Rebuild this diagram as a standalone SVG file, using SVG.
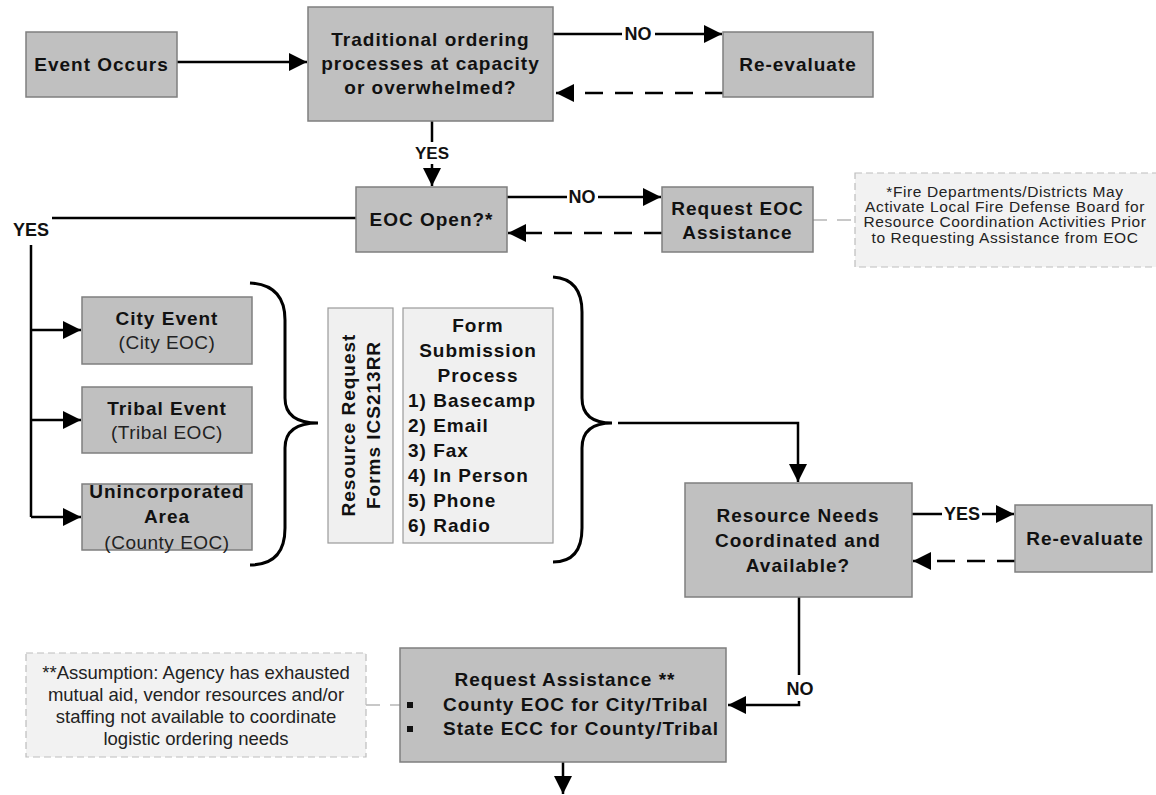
<svg xmlns="http://www.w3.org/2000/svg" width="1156" height="795" viewBox="0 0 1156 795">
  <defs>
    <marker id="arrow" markerUnits="userSpaceOnUse" markerWidth="20" markerHeight="20" refX="18" refY="9" orient="auto">
      <path d="M0,0 L18,9 L0,18 z" fill="#000"/>
    </marker>
    <style>
      .box { fill: #c0c0c0; stroke: #7f7f7f; stroke-width: 1.5; }
      .light { fill: #f0f0f0; stroke: #9a9a9a; stroke-width: 1.2; }
      .note { fill: #f2f2f2; stroke: #bdbdbd; stroke-width: 1.2; stroke-dasharray: 7 4; }
      .t { font-family: "Liberation Sans", Arial, sans-serif; font-weight: bold; font-size: 19px; letter-spacing: 1px; fill: #111; text-anchor: middle; }
      .n { font-family: "Liberation Sans", Arial, sans-serif; font-size: 19px; letter-spacing: 0.5px; fill: #222; text-anchor: middle; }
      .s { font-family: "Liberation Sans", Arial, sans-serif; font-size: 15.5px; letter-spacing: 0.6px; fill: #222; text-anchor: middle; }
      .a { font-family: "Liberation Sans", Arial, sans-serif; font-size: 18.5px; fill: #222; text-anchor: middle; }
      .lbl { font-family: "Liberation Sans", Arial, sans-serif; font-weight: bold; font-size: 17px; fill: #111; text-anchor: middle; }
      .line { fill: none; stroke: #000; stroke-width: 2.5; }
      .dash { fill: none; stroke: #000; stroke-width: 2.5; stroke-dasharray: 18 12; }
      .gdash { fill: none; stroke: #c8c8c8; stroke-width: 2; stroke-dasharray: 14 10; }
      .brace { fill: none; stroke: #000; stroke-width: 3; }
    </style>
  </defs>

  <rect width="1156" height="795" fill="#fff"/>

  <!-- connectors -->
  <g id="connectors">
    <path class="line" d="M177,62 L307,62" marker-end="url(#arrow)"/>
    <path class="line" d="M553,34 L622,34 M655,34 L722,34" marker-end="url(#arrow)"/>
    <path class="dash" d="M723,93 L556,93" marker-end="url(#arrow)"/>
    <path class="line" d="M432,121 L432,142 M432,164 L432,186" marker-end="url(#arrow)"/>
    <path class="line" d="M507,197 L567,197 M598,197 L661,197" marker-end="url(#arrow)"/>
    <path class="dash" d="M662,233 L508,233" marker-end="url(#arrow)"/>
    <path class="line" d="M356,218 L52,218"/>
    <path class="line" d="M31,245 L31,517"/>
    <path class="line" d="M31,330 L81,330" marker-end="url(#arrow)"/>
    <path class="line" d="M31,420 L81,420" marker-end="url(#arrow)"/>
    <path class="line" d="M31,517 L81,517" marker-end="url(#arrow)"/>
    <path class="gdash" d="M813,220 L855,220"/>
    <path class="brace" d="M250,283 Q285,285 285,320 L285,398 Q285,423 318,423 Q285,423 285,448 L285,528 Q285,565 250,565"/>
    <path class="brace" d="M553,277 Q582,279 582,312 L582,398 Q582,423 612,423 Q582,423 582,448 L582,528 Q582,562 553,562"/>
    <path class="line" d="M618,423 L798,423 L798,482" marker-end="url(#arrow)"/>
    <path class="line" d="M912,514 L942,514 M982,514 L1014,514" marker-end="url(#arrow)"/>
    <path class="dash" d="M1015,561 L913,561" marker-end="url(#arrow)"/>
    <path class="line" d="M799,597 L799,675"/>
    <path class="line" d="M799,701 L799,705 L728,705" marker-end="url(#arrow)"/>
    <path class="gdash" d="M366,705 L400,705"/>
    <path class="line" d="M563,762 L563,794" marker-end="url(#arrow)"/>
    <text class="lbl" x="638" y="40" style="font-size:18px">NO</text>
    <text class="lbl" x="432" y="159">YES</text>
    <text class="lbl" x="582" y="203" style="font-size:18px">NO</text>
    <text class="t" x="31" y="236" style="font-size:18px;letter-spacing:0">YES</text>
    <text class="lbl" x="962" y="520" style="font-size:18px">YES</text>
    <text class="lbl" x="800" y="695" style="font-size:18px">NO</text>
  </g>

  <g id="event-occurs">
    <rect class="box" x="26" y="32" width="151" height="65"/>
    <text class="t" x="101.5" y="71">Event Occurs</text>
  </g>

  <g id="traditional-ordering">
    <rect class="box" x="308" y="7" width="245" height="114"/>
    <text class="t" x="430.5" y="46">Traditional ordering</text>
    <text class="t" x="430.5" y="70">processes at capacity</text>
    <text class="t" x="430.5" y="94">or overwhelmed?</text>
  </g>

  <g id="re-evaluate-1">
    <rect class="box" x="723" y="32" width="150" height="65"/>
    <text class="t" x="798" y="71">Re-evaluate</text>
  </g>

  <g id="eoc-open">
    <rect class="box" x="356" y="187" width="151" height="65"/>
    <text class="t" x="431.5" y="226">EOC Open?*</text>
  </g>

  <g id="request-eoc">
    <rect class="box" x="662" y="187" width="151" height="65"/>
    <text class="t" x="737.5" y="215">Request EOC</text>
    <text class="t" x="737.5" y="239">Assistance</text>
  </g>

  <g id="fire-note">
    <rect class="note" x="855" y="173" width="305" height="94"/>
    <text class="s" x="1005" y="197">*Fire Departments/Districts May</text>
    <text class="s" x="1005" y="212">Activate Local Fire Defense Board for</text>
    <text class="s" x="1005" y="227">Resource Coordination Activities Prior</text>
    <text class="s" x="1005" y="243">to Requesting Assistance from EOC</text>
  </g>

  <g id="city-event">
    <rect class="box" x="82" y="297" width="170" height="67"/>
    <text class="t" x="167" y="325">City Event</text>
    <text class="n" x="167" y="349">(City EOC)</text>
  </g>

  <g id="tribal-event">
    <rect class="box" x="82" y="387" width="170" height="66"/>
    <text class="t" x="167" y="415">Tribal Event</text>
    <text class="n" x="167" y="439">(Tribal EOC)</text>
  </g>

  <g id="unincorporated-area">
    <rect class="box" x="82" y="484" width="170" height="66"/>
    <text class="t" x="167" y="498">Unincorporated</text>
    <text class="t" x="167" y="523">Area</text>
    <text class="n" x="167" y="549">(County EOC)</text>
  </g>

  <g id="resource-request-forms">
    <rect class="light" x="328" y="308" width="65" height="235"/>
    <text class="t" transform="translate(355,425) rotate(-90)">Resource Request</text>
    <text class="t" transform="translate(380,425) rotate(-90)">Forms ICS213RR</text>
  </g>

  <g id="form-submission">
    <rect class="light" x="403" y="308" width="150" height="235"/>
    <text class="t" x="478" y="332">Form</text>
    <text class="t" x="478" y="357">Submission</text>
    <text class="t" x="478" y="382">Process</text>
    <g class="t" style="text-anchor:start">
      <text x="408" y="407">1) Basecamp</text>
      <text x="408" y="432">2) Email</text>
      <text x="408" y="457">3) Fax</text>
      <text x="408" y="482">4) In Person</text>
      <text x="408" y="507">5) Phone</text>
      <text x="408" y="532">6) Radio</text>
    </g>
  </g>

  <g id="resource-needs">
    <rect class="box" x="685" y="483" width="227" height="114"/>
    <text class="t" x="798" y="522">Resource Needs</text>
    <text class="t" x="798" y="547">Coordinated and</text>
    <text class="t" x="798" y="572">Available?</text>
  </g>

  <g id="re-evaluate-2">
    <rect class="box" x="1015" y="505" width="137" height="67"/>
    <text class="t" x="1085" y="545">Re-evaluate</text>
  </g>

  <g id="request-assistance">
    <rect class="box" x="400" y="648" width="326" height="114"/>
    <text class="t" x="565" y="686">Request Assistance **</text>
    <rect x="407" y="702" width="6" height="6" fill="#111"/>
    <rect x="407" y="726" width="6" height="6" fill="#111"/>
    <text class="t" x="443" y="711" style="text-anchor:start">County EOC for City/Tribal</text>
    <text class="t" x="443" y="735" style="text-anchor:start">State ECC for County/Tribal</text>
  </g>

  <g id="assumption-note">
    <rect class="note" x="26" y="653" width="340" height="104"/>
    <text class="a" x="196" y="679">**Assumption: Agency has exhausted</text>
    <text class="a" x="196" y="701">mutual aid, vendor resources and/or</text>
    <text class="a" x="196" y="723">staffing not available to coordinate</text>
    <text class="a" x="196" y="745">logistic ordering needs</text>
  </g>
</svg>
